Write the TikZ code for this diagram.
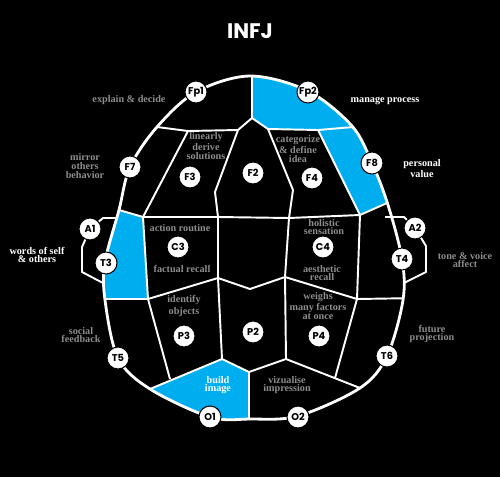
\documentclass[tikz,border=0pt]{standalone}
\usepackage{fontspec}
\usepackage{xcolor}
\usepackage{tikz}
\usetikzlibrary{calc}
\newfontfamily\elecfont{Poppins}
\newfontfamily\lblfont{Liberation Serif}
\definecolor{capblue}{RGB}{0,174,239}
\definecolor{lblgray}{RGB}{140,140,140}
\tikzset{
  wline/.style = {draw=white, line width=1.1pt, line join=round},
  hline/.style = {draw=white, line width=1.6pt},
  elec/.style  = {circle, draw=black, fill=white, line width=0.6pt,
                  minimum size=0.44cm, inner sep=0pt,
                  font=\elecfont\bfseries\fontsize{5.6}{6}\selectfont},
  lbl/.style   = {align=center, text=lblgray, inner sep=0pt,
                  font=\lblfont\bfseries\fontsize{5.8}{4.9}\selectfont},
  wlbl/.style  = {lbl, text=white},
}
\def\headoutline{plot[smooth cycle, tension=0.55] coordinates {
  (250,76) (308,91) (352,126) (372,163) (388,205) (402,259) (403,300)
  (387,356) (360,388) (298,416) (250,419) (210,417) (150,389) (118,358)
  (105,300) (105,262) (119,210) (130,167) (157,127) (196,92)}}

\begin{document}
\begin{tikzpicture}[x=0.02cm, y=-0.02cm]
  \fill[black] (0,0) rectangle (500,477);
  \useasboundingbox (0,0) rectangle (500,477);

  \node[font=\elecfont\bfseries\fontsize{12}{13}\selectfont, text=white]
    (title) at (250,31) {INFJ};

  % ears
  \draw[wline] (125,218) -- (103,218) -- (90,229);
  \draw[wline] (90,229) -- (82,247) -- (82,272) -- (103,283);
  \draw[wline] (385,217) -- (404,217) -- (415,228);
  \draw[wline] (415,228) -- (426,246) -- (426,272) -- (404,283);

  \begin{scope}
    \clip \headoutline;
    % blue regions
    \fill[capblue] (252,60) -- (252,118) -- (268,129) -- (318,130)
      -- (360,215) -- (387,203) -- (410,193) -- (450,175) -- (450,60) -- cycle;
    \fill[capblue] (143,217) -- (90,202) -- (60,202) -- (60,299)
      -- (148,299) -- cycle;
    \fill[capblue] (222,359) -- (126,399) -- (126,440) -- (249,440)
      -- (249,372) -- cycle;
    % frontal
    \draw[wline] (252,60) -- (252,118);
    \draw[wline] (140,125) -- (157,127) -- (188,131) -- (238,130) -- (252,118)
      -- (268,129) -- (318,130) -- (365,126);
    \draw[wline] (188,131) -- (143,217);
    \draw[wline] (238,130) -- (215,192) -- (218,217);
    \draw[wline] (268,129) -- (293,190) -- (289,218);
    \draw[wline] (318,130) -- (360,215);
    % central
    \draw[wline] (90,202) -- (119,210) -- (143,217) -- (218,217) -- (289,218)
      -- (360,215) -- (387,203) -- (410,193);
    \draw[wline] (90,299) -- (148,299) -- (218,278) -- (250,289) -- (285,277)
      -- (357,299) -- (420,298);
    \draw[wline] (143,217) -- (148,299);
    \draw[wline] (218,217) -- (218,278);
    \draw[wline] (289,218) -- (285,277);
    \draw[wline] (360,215) -- (357,299);
    % parietal and occipital
    \draw[wline] (148,299) -- (170,379);
    \draw[wline] (218,278) -- (222,359);
    \draw[wline] (285,277) -- (286,359);
    \draw[wline] (357,299) -- (335,378);
    \draw[wline] (126,399) -- (150,389) -- (222,359) -- (249,372) -- (286,359)
      -- (360,388) -- (385,398);
    \draw[wline] (249,372) -- (249,440);
  \end{scope}
  \draw[hline] \headoutline;

  \foreach \n/\x/\y/\t in {fp1/196/92/Fp1, fp2/308/92/Fp2, f7/130/167/F7,
      f8/372/163/F8, f3/190/177/F3, f2/253/173/F2, f4/312/178/F4,
      a1/90/229/A1, a2/415/228/A2, t3/106/263/T3, t4/402/259/T4,
      c3/178/247/C3, c4/323/247/C4, p3/184/336/P3, p2/253/332/P2,
      p4/319/336/P4, t5/118/358/T5, t6/387/356/T6, o1/210/417/O1,
      o2/298/417/O2}
    \node[elec] (\n) at (\x,\y) {\t};

  \node[lbl]  (explain)  at (129,100) {explain \& decide};
  \node[wlbl] (manage)   at (385,101) {manage process};
  \node[lbl]  (mirror)   at (85,166)  {mirror\\others\\behavior};
  \node[wlbl] (personal) at (422,169) {personal\\value};
  \node[lbl]  (linearly) at (206,146) {linearly\\derive\\solutions};
  \node[lbl]  (categ)    at (298,149) {categorize\\\& define\\idea};
  \node[lbl]  (action)   at (180,228) {action routine};
  \node[lbl]  (factual)  at (182,269) {factual recall};
  \node[lbl]  (holistic) at (324,227) {holistic\\sensation};
  \node[lbl]  (aesth)    at (322,273) {aesthetic\\recall};
  \node[wlbl] (words)    at (37,255)  {words of self\\\& others};
  \node[lbl]  (tone)     at (465,260) {tone \& voice\\affect};
  \node[lbl]  (identify) at (184,306) {identify\\objects};
  \node[lbl]  (weighs)   at (318,306) {weighs\\many factors\\at once};
  \node[lbl]  (social)   at (81,335)  {social\\feedback};
  \node[lbl]  (future)   at (432,334) {future\\projection};
  \node[wlbl] (build)    at (218,385) {build\\image};
  \node[lbl]  (vizual)   at (287,385) {vizualise\\impression};
\end{tikzpicture}
\end{document}
